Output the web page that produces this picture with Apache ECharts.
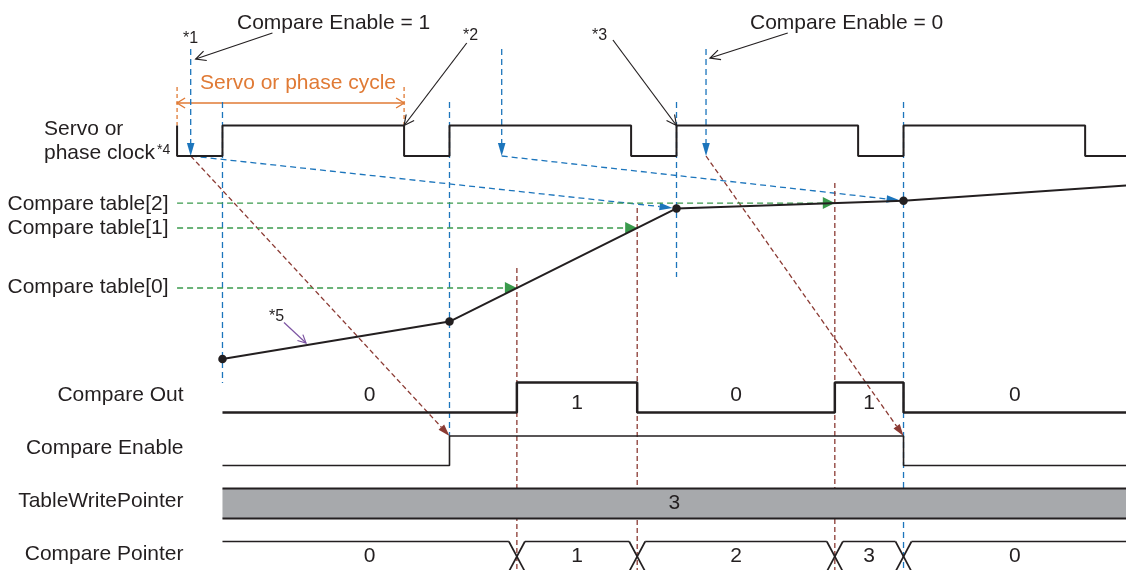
<!DOCTYPE html>
<html><head><meta charset="utf-8">
<script src="https://cdn.jsdelivr.net/npm/echarts@6/dist/echarts.min.js"></script>
<style>html,body{margin:0;padding:0;background:#fff}#c{width:1126px;height:570px}</style>
</head><body><div id="c"></div>
<script>
// ================= DATA =================
// time in arbitrary units; one servo/phase cycle = 1000
const clockFallTimes = [0, 1000, 2000, 3000, 4000];
const clockRiseTimes = [200, 1200, 2200, 3200];
const positionTimes = [200, 1200, 2200, 3200, 4180];
const positionValues = [105, 292, 858, 896, 972];
const compareTableValues = [460, 760, 884.5];
const compareTableLabels = ['Compare table[0]', 'Compare table[1]', 'Compare table[2]'];
const commandTimes = [60, 1430, 2330];
const sampleLinkFrom = [60, 1430];
const sampleLinkTo = [2200, 3200];
const enableLinkFrom = [60, 2330];
const enableLinkTo = [1200, 3200];
const compareEnableEdges = [1200, 3200];
const compareEnableLevels = [0, 1, 0];
const compareOutLevels = [0, 1, 0, 1, 0];
const compareOutLabels = ['0', '1', '0', '1', '0'];
const comparePointerLabels = ['0', '1', '2', '3', '0'];
const tableWritePointerLabel = '3';
const signalStart = 200;

// ================= LAYOUT / STYLE =================
const TIME_MIN = -780, TIME_MAX = 4180;
const LAY_MAX = 570;
const POS_MIN = -950, POS_MAX = 1900;
const L = {
  clockHigh: 125.5, clockLow: 156,
  outHigh: 382.5, outLow: 412.5,
  enHigh: 436, enLow: 465.5,
  twpTop: 488.5, twpBottom: 518.5,
  cpTop: 541.5, cpBottom: 571.5,
  cmdTop: 49, edgeTop: 102, cycleTop: 87, cycleArrow: 103,
  riseGuideBottom: [383, 436, 277, 570],
  outLabelY: [395, 403.5], cpLabelY: 556, twpLabelY: 503,
  xHalf: 8
};
const C = {
  text: '#231f20', blue: '#1c75bc', brown: '#8b3a33', green: '#3a9a4c',
  orange: '#e07a35', purple: '#7d55a3', gray: '#a7a9ac'
};
const FONT = "'Liberation Sans', Arial, Helvetica, sans-serif";

function posToLay(p) { return LAY_MAX * (POS_MAX - p) / (POS_MAX - POS_MIN); }
function posAt(t) {
  for (let i = 0; i < positionTimes.length - 1; i++) {
    if (t >= positionTimes[i] && t <= positionTimes[i + 1]) {
      const f = (t - positionTimes[i]) / (positionTimes[i + 1] - positionTimes[i]);
      return positionValues[i] + f * (positionValues[i + 1] - positionValues[i]);
    }
  }
  return positionValues[positionValues.length - 1];
}
function crossTime(v) {
  for (let i = 0; i < positionValues.length - 1; i++) {
    const a = positionValues[i], b = positionValues[i + 1];
    if ((v - a) * (v - b) <= 0 && a !== b) {
      return positionTimes[i] + (v - a) / (b - a) * (positionTimes[i + 1] - positionTimes[i]);
    }
  }
  return null;
}
const crossTimes = compareTableValues.map(crossTime);
const compareOutEdges = [crossTimes[0], crossTimes[1], crossTimes[2], compareEnableEdges[1]];
const comparePointerEdges = compareOutEdges.slice();

function stepPoints(tStart, tEnd, edges, levels, yOf) {
  const pts = [[tStart, yOf(levels[0])]];
  edges.forEach((t, i) => { pts.push([t, yOf(levels[i])]); pts.push([t, yOf(levels[i + 1])]); });
  pts.push([tEnd, yOf(levels[levels.length - 1])]);
  return pts;
}
// clock
const clockEvents = clockFallTimes.map(t => [t, 0]).concat(clockRiseTimes.map(t => [t, 1])).sort((a, b) => a[0] - b[0]);
const clockEdges = clockEvents.map(e => e[0]);
const clockLevels = [1].concat(clockEvents.map(e => e[1]));
const clockPts = stepPoints(clockFallTimes[0], TIME_MAX, clockEdges, clockLevels, v => v ? L.clockHigh : L.clockLow);
const outPts = stepPoints(signalStart, TIME_MAX, compareOutEdges, compareOutLevels, v => v ? L.outHigh : L.outLow);
const enPts = stepPoints(signalStart, TIME_MAX, compareEnableEdges, compareEnableLevels, v => v ? L.enHigh : L.enLow);

// ================= ANNOTATION SHAPES =================
const shapes = [];
// orange cycle marker
clockFallTimes.slice(0, 2).forEach(t => shapes.push({ pts: [[t, L.cycleTop], [t, L.clockHigh]], color: C.orange, dash: [4, 3], width: 1.3 }));
shapes.push({ pts: [[clockFallTimes[0], L.cycleArrow], [clockFallTimes[1], L.cycleArrow]], color: C.orange, width: 1.4, headStart: 'open', headEnd: 'open', headLen: 8, headW: 5 });
// blue guides at clock rising edges
clockRiseTimes.forEach((t, i) => shapes.push({ pts: [[t, L.edgeTop], [t, L.riseGuideBottom[i]]], color: C.blue, dash: [6, 4], width: 1.3 }));
// blue command arrows
commandTimes.forEach(t => shapes.push({ pts: [[t, L.cmdTop], [t, L.clockLow]], color: C.blue, dash: [6, 4], width: 1.3, headEnd: 'fill', headLen: 13, headW: 3.8 }));
// blue slanted links to sampled position
sampleLinkFrom.forEach((t, i) => shapes.push({ pts: [[t, L.clockLow], [sampleLinkTo[i], posToLay(posAt(sampleLinkTo[i]))]], color: C.blue, dash: [6, 4], width: 1.3, headEnd: 'fill', headLen: 13, headW: 3.8, shorten: 4 }));
// brown slanted links to compare enable change
enableLinkFrom.forEach((t, i) => shapes.push({ pts: [[t, L.clockLow], [enableLinkTo[i], L.enHigh]], color: C.brown, dash: [5, 3], width: 1.3, headEnd: 'fill', headLen: 12, headW: 3.8 }));
// brown verticals at crossing times
crossTimes.forEach((t, i) => shapes.push({ pts: [[t, posToLay(compareTableValues[i]) - 20], [t, 572]], color: C.brown, dash: [5, 3], width: 1.3 }));
// green compare table levels
compareTableValues.forEach((v, i) => shapes.push({ pts: [[clockFallTimes[0], posToLay(v)], [crossTimes[i], posToLay(v)]], color: C.green, dash: [6, 4], width: 1.3, headEnd: 'fill', headLen: 12, headW: 6 }));
// black callout arrows
shapes.push({ pts: [[420, 33], [commandTimes[0], 59]], off: [[0, 0], [5, 0]], color: C.text, width: 1.2, headEnd: 'open', headLen: 10, headW: 5 });
shapes.push({ pts: [[1276, 43], [clockFallTimes[1], L.clockHigh]], color: C.text, width: 1.2, headEnd: 'open', headLen: 10, headW: 5 });
shapes.push({ pts: [[1920, 40], [clockRiseTimes[2], L.clockHigh]], color: C.text, width: 1.2, headEnd: 'open', headLen: 10, headW: 5 });
shapes.push({ pts: [[2690, 33], [commandTimes[2], 58]], off: [[0, 0], [4, 0]], color: C.text, width: 1.2, headEnd: 'open', headLen: 10, headW: 5 });
// purple *5 arrow
shapes.push({ pts: [[471, 322.5], [568, 343]], color: C.purple, width: 1.2, headEnd: 'open', headLen: 8, headW: 4 });

function makeHead(from, tip, kind, a) {
  const dx = tip[0] - from[0], dy = tip[1] - from[1];
  const len0 = Math.hypot(dx, dy) || 1;
  const ux = dx / len0, uy = dy / len0;
  const len = a.headLen || 12, hw = a.headW || 4;
  const bx = tip[0] - ux * len, by = tip[1] - uy * len;
  const px = -uy, py = ux;
  if (kind === 'fill') {
    return { base: [bx, by], el: { type: 'polygon', shape: { points: [[tip[0], tip[1]], [bx + px * hw, by + py * hw], [bx - px * hw, by - py * hw]] }, style: { fill: a.color, stroke: null } } };
  }
  return { base: tip, el: { type: 'polyline', shape: { points: [[bx + px * hw, by + py * hw], [tip[0], tip[1]], [bx - px * hw, by - py * hw]] }, style: { stroke: a.color, lineWidth: a.width || 1.2, fill: null } } };
}

function renderShape(params, api) {
  const a = shapes[params.dataIndex];
  let P = a.pts.map((q, i) => {
    const c = api.coord(q);
    const o = (a.off && a.off[i]) || [0, 0];
    return [c[0] + o[0], c[1] + o[1]];
  });
  const n = P.length;
  if (a.shorten) {
    const dx = P[n - 1][0] - P[n - 2][0], dy = P[n - 1][1] - P[n - 2][1];
    const d = Math.hypot(dx, dy);
    P[n - 1] = [P[n - 1][0] - dx / d * a.shorten, P[n - 1][1] - dy / d * a.shorten];
  }
  const children = [];
  if (a.headEnd) { const h = makeHead(P[n - 2], P[n - 1], a.headEnd, a); children.push(h.el); P[n - 1] = h.base; }
  if (a.headStart) { const h = makeHead(P[1], P[0], a.headStart, a); children.push(h.el); P[0] = h.base; }
  children.unshift({ type: 'polyline', shape: { points: P }, style: { stroke: a.color, lineWidth: a.width || 1.3, lineDash: a.dash || null, fill: null } });
  return { type: 'group', children };
}

// value labels
const valueLabels = [];
const outBounds = [signalStart].concat(compareOutEdges, [TIME_MAX]);
compareOutLabels.forEach((s, i) => valueLabels.push({ t: (outBounds[i] + outBounds[i + 1]) / 2, y: L.outLabelY[compareOutLevels[i]], text: s }));
const cpBounds = [signalStart].concat(comparePointerEdges, [TIME_MAX]);
comparePointerLabels.forEach((s, i) => valueLabels.push({ t: (cpBounds[i] + cpBounds[i + 1]) / 2, y: L.cpLabelY, text: s }));
valueLabels.push({ t: (signalStart + TIME_MAX) / 2, y: L.twpLabelY, text: tableWritePointerLabel });

function renderLabel(params, api) {
  const a = valueLabels[params.dataIndex];
  const p = api.coord([a.t, a.y]);
  return { type: 'text', x: p[0], y: p[1], style: { text: a.text, fill: C.text, fontSize: 21, fontFamily: FONT, align: 'center', verticalAlign: 'middle' } };
}

function renderTWP(params, api) {
  const p0 = api.coord([signalStart, L.twpTop]);
  const p1 = api.coord([TIME_MAX, L.twpBottom]);
  return { type: 'group', children: [
    { type: 'rect', shape: { x: p0[0], y: p0[1], width: p1[0] - p0[0], height: p1[1] - p0[1] }, style: { fill: C.gray, stroke: null } },
    { type: 'line', shape: { x1: p0[0], y1: p0[1], x2: p1[0], y2: p0[1] }, style: { stroke: C.text, lineWidth: 2 } },
    { type: 'line', shape: { x1: p0[0], y1: p1[1], x2: p1[0], y2: p1[1] }, style: { stroke: C.text, lineWidth: 2 } }
  ] };
}

function renderCP(params, api) {
  const hw = L.xHalf;
  const xs = cpBounds.map(t => api.coord([t, L.cpTop])[0]);
  const yT = api.coord([0, L.cpTop])[1], yB = api.coord([0, L.cpBottom])[1];
  const children = [];
  const st = { stroke: C.text, lineWidth: 1.7, fill: null };
  for (let i = 0; i < xs.length - 1; i++) {
    const a = xs[i] + (i === 0 ? 0 : hw), b = xs[i + 1] - (i === xs.length - 2 ? 0 : hw);
    children.push({ type: 'line', shape: { x1: a, y1: yT, x2: b, y2: yT }, style: st });
    children.push({ type: 'line', shape: { x1: a, y1: yB, x2: b, y2: yB }, style: st });
  }
  for (let i = 1; i < xs.length - 1; i++) {
    children.push({ type: 'line', shape: { x1: xs[i] - hw, y1: yT, x2: xs[i] + hw, y2: yB }, style: st });
    children.push({ type: 'line', shape: { x1: xs[i] + hw, y1: yT, x2: xs[i] - hw, y2: yB }, style: st });
  }
  return { type: 'group', children };
}

function txt(x, y, s, opt) {
  opt = opt || {};
  return { type: 'text', x, y, z: 100, silent: true, style: { text: s, fill: opt.color || C.text, fontSize: opt.size || 21, fontFamily: FONT, align: opt.align || 'left', verticalAlign: 'middle' } };
}

const graphics = [
  txt(183, 39, '*1', { size: 16 }),
  txt(237, 23, 'Compare Enable = 1'),
  txt(463, 35.5, '*2', { size: 16 }),
  txt(592, 35.5, '*3', { size: 16 }),
  txt(750, 23, 'Compare Enable = 0'),
  txt(298, 83, 'Servo or phase cycle', { color: C.orange, align: 'center' }),
  txt(44, 129, 'Servo or'),
  txt(44, 153, 'phase clock'),
  txt(157, 150, '*4', { size: 14 }),
  txt(7.5, 204, compareTableLabels[2]),
  txt(7.5, 228, compareTableLabels[1]),
  txt(7.5, 287.5, compareTableLabels[0]),
  txt(269, 317, '*5', { size: 16 }),
  txt(183.5, 395, 'Compare Out', { align: 'right' }),
  txt(183.5, 448, 'Compare Enable', { align: 'right' }),
  txt(183.5, 501, 'TableWritePointer', { align: 'right' }),
  txt(183.5, 554, 'Compare Pointer', { align: 'right' })
];

const chart = echarts.init(document.getElementById('c'), null, { renderer: 'canvas' });
chart.setOption({
  animation: false,
  backgroundColor: '#ffffff',
  grid: { left: 0, right: 0, top: 0, bottom: 0 },
  xAxis: { type: 'value', min: TIME_MIN, max: TIME_MAX, show: false },
  yAxis: [
    { type: 'value', min: 0, max: LAY_MAX, inverse: true, show: false },
    { type: 'value', min: POS_MIN, max: POS_MAX, show: false }
  ],
  graphic: graphics,
  series: [
    { type: 'custom', name: 'annotations', silent: true, z: 1, renderItem: renderShape, data: shapes.map((a, i) => [a.pts[0][0], a.pts[0][1], i]), clip: false },
    { type: 'custom', name: 'TableWritePointer', silent: true, z: 2, renderItem: renderTWP, data: [[signalStart, L.twpTop]], clip: false },
    { type: 'custom', name: 'Compare Pointer', silent: true, z: 2, renderItem: renderCP, data: [[signalStart, L.cpTop]], clip: false },
    { type: 'line', name: 'clock', silent: true, z: 3, data: clockPts, symbol: 'none', lineStyle: { color: C.text, width: 2 } },
    { type: 'line', name: 'Compare Out', silent: true, z: 3, data: outPts, symbol: 'none', lineStyle: { color: C.text, width: 2.5 } },
    { type: 'line', name: 'Compare Enable', silent: true, z: 3, data: enPts, symbol: 'none', lineStyle: { color: C.text, width: 1.6 } },
    { type: 'line', name: 'position', silent: true, z: 5, yAxisIndex: 1, showAllSymbol: true,
      data: positionTimes.map((t, i) => ({ value: [t, positionValues[i]], symbol: i < positionTimes.length - 1 ? 'circle' : 'none' })),
      symbolSize: 8.5, itemStyle: { color: C.text, borderWidth: 0 }, lineStyle: { color: C.text, width: 2 } },
    { type: 'custom', name: 'labels', silent: true, z: 6, renderItem: renderLabel, data: valueLabels.map((a, i) => [a.t, a.y, i]), clip: false }
  ]
});
</script>
</body></html>
